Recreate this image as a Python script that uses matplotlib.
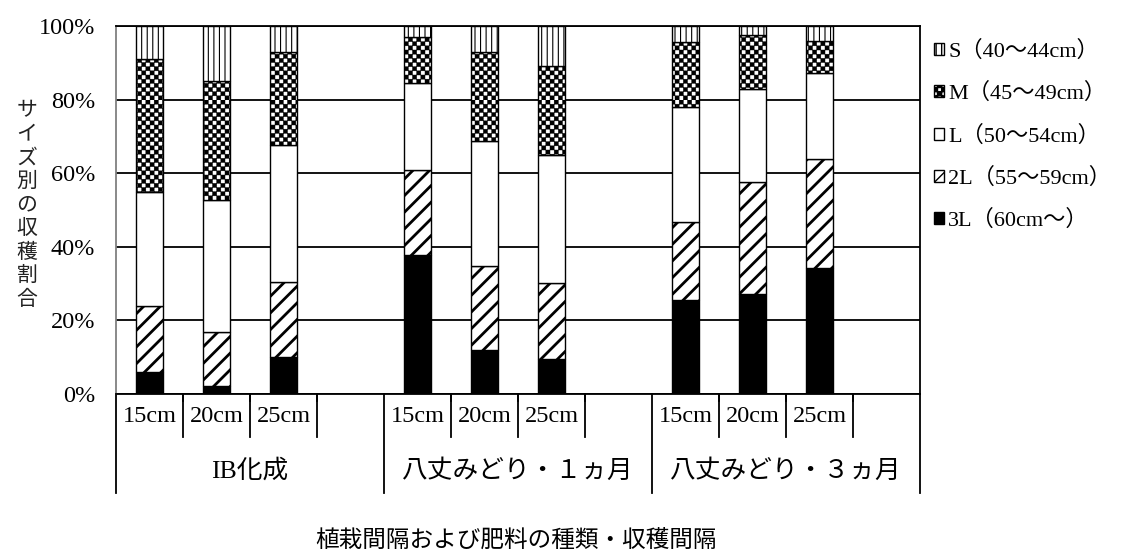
import numpy as np
import matplotlib
matplotlib.use('Agg')
import matplotlib.pyplot as plt
import matplotlib.hatch as mhatch
from matplotlib.path import Path

plt.rcParams['font.family'] = ['Liberation Serif', 'Noto Sans CJK JP']
plt.rcParams['hatch.color'] = 'black'

# --- data (% of harvest per size) ---
groups = ['IB化成', '八丈みどり・１ヵ月', '八丈みどり・３ヵ月']
spacings = ['15cm', '20cm', '25cm']
size_labels = ['3L（60cm～）', '2L（55～59cm）', 'L（50～54cm）', 'M（45～49cm）', 'S（40～44cm）']
v_3L = [6.1, 2.2, 10.1, 37.8, 12.0, 9.5, 25.5, 27.2, 34.2]
v_2L = [17.8, 14.7, 20.2, 23.1, 22.8, 20.6, 21.3, 30.5, 29.7]
v_L = [31.0, 35.8, 37.4, 23.7, 34.0, 34.8, 31.1, 25.2, 23.2]
v_M = [36.1, 32.4, 25.3, 12.4, 24.0, 24.2, 17.7, 14.7, 8.9]
v_S = [9.0, 14.9, 7.0, 3.0, 7.2, 10.9, 4.4, 2.4, 4.0]
y_ticks = [0, 20, 40, 60, 80, 100]


# checkerboard hatch ('o' is reused for it)
class CheckerHatch(mhatch.HatchPatternBase):
    def __init__(self, hatch, density):
        self.n = int(hatch.count('o') * density)
        self.num_vertices = (self.n * self.n + 1) // 2 * 5 if self.n else 0

    def set_vertices_and_codes(self, vertices, codes):
        s = 1.0 / self.n
        k = 0
        for i in range(self.n):
            for j in range(self.n):
                if (i + j) % 2 == 0:
                    x, y = i * s, j * s
                    vertices[k:k + 5] = [(x, y), (x + s, y), (x + s, y + s), (x, y + s), (x, y)]
                    codes[k:k + 5] = [Path.MOVETO, Path.LINETO, Path.LINETO, Path.LINETO, Path.CLOSEPOLY]
                    k += 5


mhatch._hatch_types = [t for t in mhatch._hatch_types if t is not mhatch.SmallCircles] + [CheckerHatch]

fig = plt.figure(figsize=(11.21, 5.56), dpi=100)
ax = fig.add_axes([116 / 1121, 1 - 394 / 556, 804 / 1121, 368 / 556])

n_slots = len(spacings) + 1
x = np.array([g * n_slots + i for g in range(len(groups)) for i in range(len(spacings))])

series = [
    (v_3L, 'black', None, 1.0),
    (v_2L, 'white', '//', 2.0),
    (v_L, 'white', None, 1.0),
    (v_M, 'white', 'oooo', 0.3),
    (v_S, 'white', '|||', 0.8),
]

bottom = np.zeros(len(x))
handles = []
for (vals, fc, hatch, hlw), lab in zip(series, size_labels):
    bars = ax.bar(x, vals, 0.4, bottom=bottom, color=fc, edgecolor='black',
                  linewidth=1.0, hatch=hatch, zorder=3, label=lab)
    for b in bars:
        if hasattr(b, 'set_hatch_linewidth'):
            b.set_hatch_linewidth(hlw)
    handles.append(bars)
    bottom += np.array(vals)

ax.set_xlim(-0.5, len(groups) * n_slots - 0.5)
ax.set_ylim(0, 100)
ax.set_yticks(y_ticks)
ax.set_yticklabels([f'{t}%' for t in y_ticks], fontsize=17.5)
ax.tick_params(axis='y', length=0, pad=15)
ax.set_xticks([])
ax.yaxis.grid(True, color='black', linewidth=1.3, zorder=0)
ax.set_axisbelow(True)
ax.spines['left'].set_color('#808080')
ax.spines['left'].set_linewidth(1.3)
for sp in ['right', 'top', 'bottom']:
    ax.spines[sp].set_color('black')
    ax.spines[sp].set_linewidth(1.3)

# multi-level category axis
tr = ax.get_xaxis_transform()
for g in range(len(groups)):
    for i in range(n_slots):
        b = g * n_slots + i + 0.5
        if i < n_slots - 1:
            ax.plot([b, b], [0, -0.02], color='black', lw=1.3, transform=tr, clip_on=False)
        if i < len(spacings):
            ax.plot([b, b], [0, -0.117], color='black', lw=1.3, transform=tr, clip_on=False)
            ax.text(g * n_slots + i, -0.06, spacings[i], transform=tr, ha='center', va='center',
                    fontsize=17.5)
    ax.text(g * n_slots + 1.5, -0.21, groups[g], transform=tr, ha='center', va='center', fontsize=18.5)
for g in range(len(groups) + 1):
    b = g * n_slots - 0.5
    ax.plot([b, b], [0, -0.269], color='black', lw=1.3, transform=tr, clip_on=False)

leg = ax.legend(handles[::-1], size_labels[::-1], loc='upper left', bbox_to_anchor=(1.006, 0.984),
                frameon=False, fontsize=16, handlelength=0.45, handleheight=0.45,
                handletextpad=0.2, labelspacing=0.95, borderaxespad=0.0)

fig.text(27 / 1121, 1 - 206 / 556, '\n'.join('サイズ別の収穫割合'), ha='center', va='center',
         fontsize=15, linespacing=1.32, color='#222222')
fig.text(516 / 1121, 1 - 541 / 556, '植栽間隔および肥料の種類・収穫間隔', ha='center', va='center',
         fontsize=17)

fig.savefig('out.png', dpi=100)
